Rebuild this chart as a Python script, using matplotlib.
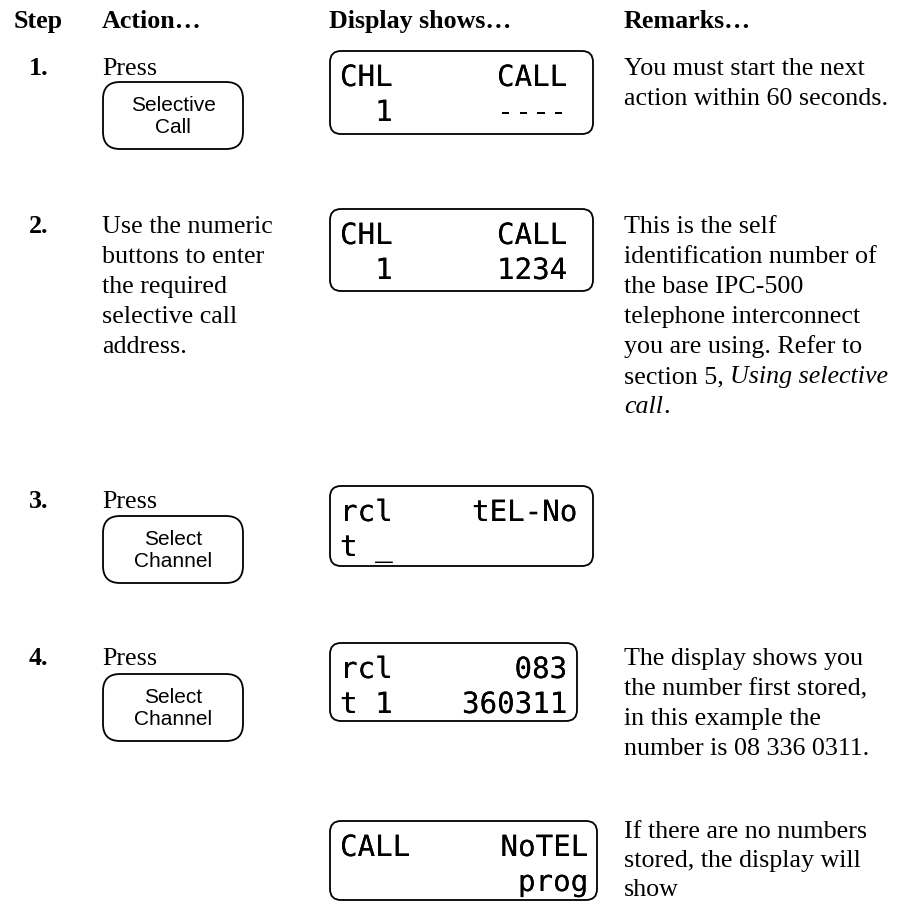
import matplotlib
matplotlib.use('Agg')
import matplotlib.pyplot as plt
from matplotlib.patches import FancyBboxPatch
import matplotlib.patheffects as pe

# table content
headers = ['Step', 'Action\u2026', 'Display shows\u2026', 'Remarks\u2026']
steps = ['1.', '2.', '3.', '4.', '']
actions = [['Press'],
           ['Use the numeric', 'buttons to enter', 'the required',
            'selective call', 'address.'],
           ['Press'],
           ['Press'],
           []]
buttons = [['Selective', 'Call'], None, ['Select', 'Channel'],
           ['Select', 'Channel'], None]
lcd_left = [['CHL', '  1'], ['CHL', '  1'], ['rcl', 't _'], ['rcl', 't 1'],
            ['CALL', '']]
lcd_right = [['CALL', '----'], ['CALL', '1234'], ['tEL-No', ''],
             ['083', '360311'], ['NoTEL', 'prog']]
# remarks: each line is a list of (text, italic) pieces
remarks = [
    [[('You must start the next', False)],
     [('action within 60 seconds.', False)]],
    [[('This is the self', False)],
     [('identification number of', False)],
     [('the base IPC-500', False)],
     [('telephone interconnect', False)],
     [('you are using. Refer to', False)],
     [('section 5, ', False), ('Using selective', True)],
     [('call', True), ('.', False)]],
    [],
    [[('The display shows you', False)],
     [('the number first stored,', False)],
     [('in this example the', False)],
     [('number is 08 336 0311.', False)]],
    [[('If there are no numbers', False)],
     [('stored, the display will', False)],
     [('show', False)]],
]

# layout (pixels)
row_base = [75, 233, 508, 665, 838]
btn_top = [83, None, 517, 675, None]
box_top = [52, 210, 487, 644, 822]
box_h = [83, 82, 80, 78, 79]
box_right = [593, 593, 593, 577, 597]
lcd_right_x = [567, 567, 577, 567, 588]
line_gap = [30, 30, 30, 30, 29]
rem_x = 624

serif = 'Liberation Serif'
sans = 'Liberation Sans'
mono = 'DejaVu Sans Mono'
fs = 18.7

fig = plt.figure(figsize=(9.06, 9.04), dpi=100)
ax = fig.add_axes([0, 0, 1, 1])
ax.set_xlim(0, 906)
ax.set_ylim(904, 0)
ax.axis('off')
renderer = fig.canvas.get_renderer()

for x, h in zip([14, 102, 329, rem_x], headers):
    ax.text(x, 28, h, family=serif, weight='bold', fontsize=fs, va='baseline')

thin = [pe.withStroke(linewidth=1.6, foreground='white'), pe.Normal()]

for i in range(5):
    y0 = row_base[i]
    if steps[i]:
        ax.text(29, y0, steps[i], family=serif, weight='bold', fontsize=fs,
                va='baseline')
    for k, line in enumerate(actions[i]):
        ax.text(102, y0 + k * line_gap[i], line, family=serif, fontsize=fs,
                va='baseline')
    if buttons[i]:
        bt = btn_top[i]
        ax.add_patch(FancyBboxPatch((103, bt), 140, 67,
                                    boxstyle='round,pad=0,rounding_size=17',
                                    fc='white', ec='black', lw=1.3))
        cy = bt + 33.5
        ax.text(173, cy - 11, buttons[i][0], family=sans, fontsize=15,
                ha='center', va='center')
        ax.text(173, cy + 11, buttons[i][1], family=sans, fontsize=15,
                ha='center', va='center')
    # display
    bt = box_top[i]
    ax.add_patch(FancyBboxPatch((330, bt), box_right[i] - 330, box_h[i],
                                boxstyle='round,pad=0,rounding_size=11',
                                fc='white', ec='black', lw=1.3))
    for k in range(2):
        yb = bt + 35 + k * 35
        if lcd_left[i][k]:
            ax.text(340, yb, lcd_left[i][k], family=mono, fontsize=21,
                    va='baseline', ha='left', path_effects=thin)
        if lcd_right[i][k]:
            ax.text(lcd_right_x[i], yb, lcd_right[i][k], family=mono,
                    fontsize=21, va='baseline', ha='right', path_effects=thin)
    # remarks
    for k, line in enumerate(remarks[i]):
        x = rem_x
        for txt, it in line:
            t = ax.text(x, y0 + k * line_gap[i], txt, family=serif,
                        fontsize=fs, style='italic' if it else 'normal',
                        va='baseline')
            x = t.get_window_extent(renderer).x1

fig.savefig('out.png', dpi=100)
